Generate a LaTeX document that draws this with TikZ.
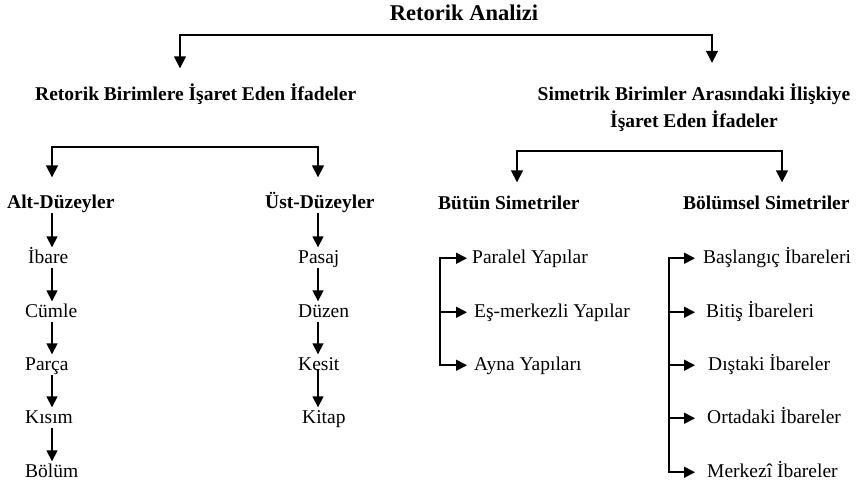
\documentclass[tikz,border=0pt]{standalone}
\usepackage{fontspec}
\setmainfont{Liberation Serif}
\usetikzlibrary{arrows.meta}
\begin{document}
\begin{tikzpicture}[x=1pt,y=-1pt,
  con/.style={line width=1.6pt, line cap=rect, -{Triangle[length=11pt,width=11pt]}},
  dcon/.style={line width=1.6pt, {Triangle[length=12pt,width=12pt]}-{Triangle[length=12pt,width=12pt]}},
  plain/.style={line width=1.6pt, line cap=rect},
  item/.style={inner sep=0pt, inner ysep=2pt, text height=13.5pt, text depth=4pt, anchor=base west,
    font=\fontsize{19.5pt}{23pt}\selectfont},
  head/.style={item, font=\fontsize{19.5pt}{23pt}\selectfont\bfseries}]
\useasboundingbox (0,0) rectangle (858,484);
\fill[white] (0,0) rectangle (858,484);

% coordinates for connector columns and bars
\coordinate (cA) at (180,35);
\coordinate (cB) at (712,35);
\coordinate (cL) at (52,147);
\coordinate (cU) at (318,147);
\coordinate (cS) at (517,151);
\coordinate (cT) at (782,151);
\coordinate (vB) at (440,0);
\coordinate (vC) at (669,0);

% texts
\node[head, anchor=base, font=\fontsize{22.5pt}{26pt}\selectfont\bfseries] (root) at (464,21) {Retorik Analizi};
\node[head] (rbe) at (35,100) {Retorik Birimlere İşaret Eden İfadeler};
\node[head, anchor=base, align=center, text height=42pt, font=\fontsize{19.5pt}{28pt}\selectfont\bfseries] (sbe) at (694,128)
  {Simetrik Birimler Arasındaki İlişkiye\\İşaret Eden İfadeler};

\node[head] (alt) at (7,208) {Alt-Düzeyler};
\node[head] (ust) at (265,208) {Üst-Düzeyler};
\node[head] (but) at (438,209) {Bütün Simetriler};
\node[head] (bol) at (683,209) {Bölümsel Simetriler};

\node[item] (ibare) at (28,263) {İbare};
\node[item] (cumle) at (25,317) {Cümle};
\node[item] (parca) at (25,370) {Parça};
\node[item] (kisim) at (25,423) {Kısım};
\node[item] (bolum) at (25,477) {Bölüm};

\node[item] (pasaj) at (298,263) {Pasaj};
\node[item] (duzen) at (298,317) {Düzen};
\node[item] (kesit) at (298,370) {Kesit};
\node[item] (kitap) at (302,423) {Kitap};

\node[item] (par) at (472,263) {Paralel Yapılar};
\node[item] (es) at (474,317) {Eş-merkezli Yapılar};
\node[item] (ayna) at (474,370) {Ayna Yapıları};

\node[item] (bas) at (703,263) {Başlangıç İbareleri};
\node[item] (bit) at (706,317) {Bitiş İbareleri};
\node[item] (dis) at (708,370) {Dıştaki İbareler};
\node[item] (ort) at (707,423) {Ortadaki İbareler};
\node[item] (mer) at (707,477) {Merkezî İbareler};

% top level connector
\draw[dcon, shorten <=21pt, shorten >=16pt] (sbe.north -| cB) |- (cA) -- (rbe.north -| cA);

% second level connectors
\draw[dcon, shorten <=15pt, shorten >=15pt] (alt.north -| cL) |- (cU) -- (ust.north -| cU);
\draw[dcon, shorten <=11pt, shorten >=11pt] (but.north -| cS) |- (cT) -- (bol.north -| cT);

% left column chains
\draw[con] (alt.south -| cL) -- (ibare.north -| cL);
\draw[con] (ibare.south -| cL) -- (cumle.north -| cL);
\draw[con] (cumle.south -| cL) -- (parca.north -| cL);
\draw[con] (parca.south -| cL) -- (kisim.north -| cL);
\draw[con] (kisim.south -| cL) -- (bolum.north -| cL);

\draw[con] (ust.south -| cU) -- (pasaj.north -| cU);
\draw[con] (pasaj.south -| cU) -- (duzen.north -| cU);
\draw[con] (duzen.south -| cU) -- (kesit.north -| cU);
\draw[con, shorten <=-6pt] (kesit.south -| cU) -- (kitap.north -| cU);

% Bütün Simetriler bracket
\draw[plain] (vB |- par.west) -- (vB |- ayna.west);
\draw[con, shorten >=5pt] (vB |- par.west) -- (par.west);
\draw[con, shorten >=7pt] (vB |- es.west) -- (es.west);
\draw[con, shorten >=7pt] (vB |- ayna.west) -- (ayna.west);

% Bölümsel Simetriler bracket
\draw[plain] (vC |- bas.west) -- (vC |- mer.west);
\draw[con, shorten >=8pt] (vC |- bas.west) -- (bas.west);
\draw[con, shorten >=11pt] (vC |- bit.west) -- (bit.west);
\draw[con, shorten >=13pt] (vC |- dis.west) -- (dis.west);
\draw[con, shorten >=12pt] (vC |- ort.west) -- (ort.west);
\draw[con, shorten >=12pt] (vC |- mer.west) -- (mer.west);
\end{tikzpicture}
\end{document}
